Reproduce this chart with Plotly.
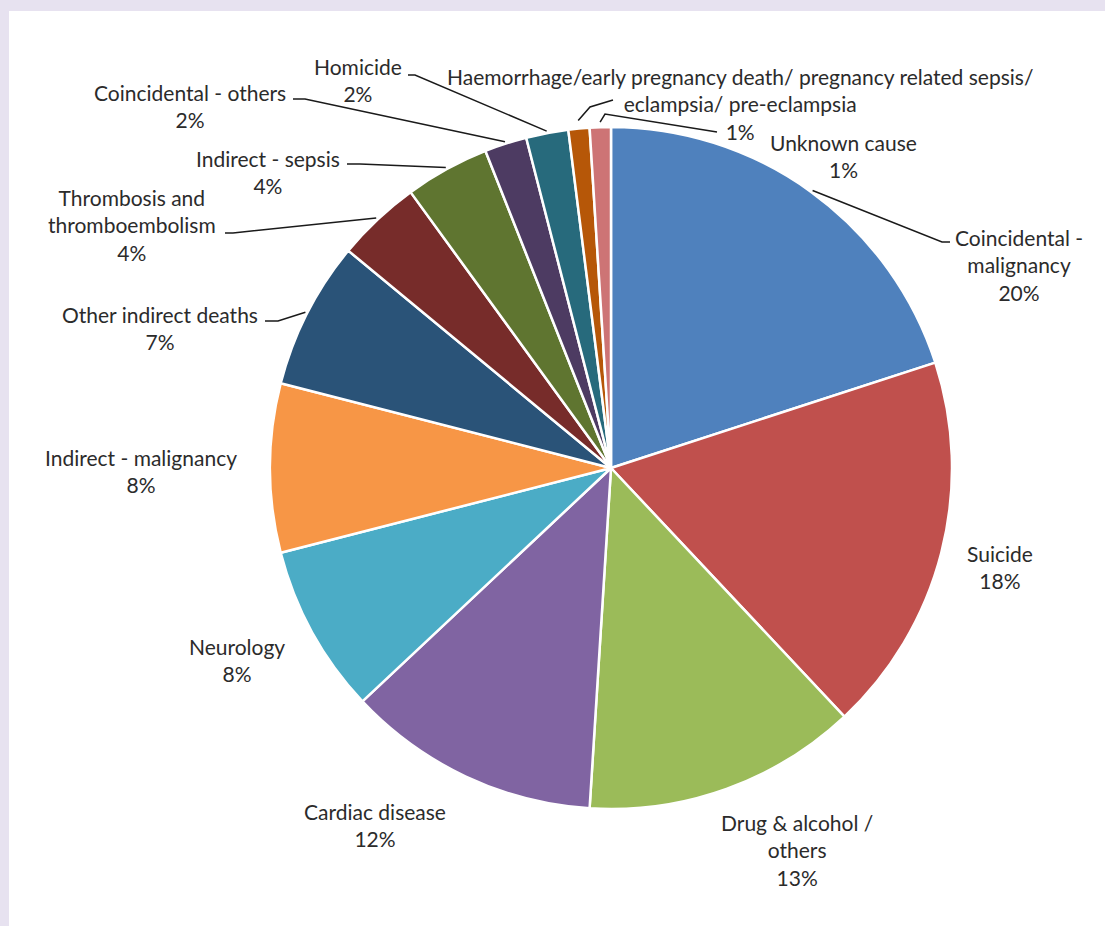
import math
import plotly.graph_objects as go

# Causes of death, in drawing order (clockwise from 12 o'clock)
categories = [
    "Coincidental - malignancy",
    "Suicide",
    "Drug & alcohol / others",
    "Cardiac disease",
    "Neurology",
    "Indirect - malignancy",
    "Other indirect deaths",
    "Thrombosis and thromboembolism",
    "Indirect - sepsis",
    "Coincidental - others",
    "Homicide",
    "Haemorrhage/early pregnancy death/ pregnancy related sepsis/ eclampsia/ pre-eclampsia",
    "Unknown cause",
]
values = [20, 18, 13, 12, 8, 8, 7, 4, 4, 2, 2, 1, 1]

# Wrapped label text as shown on the chart
display_labels = [
    "Coincidental -<br>malignancy",
    "Suicide",
    "Drug & alcohol /<br>others",
    "Cardiac disease",
    "Neurology",
    "Indirect - malignancy",
    "Other indirect deaths",
    "Thrombosis and<br>thromboembolism",
    "Indirect - sepsis",
    "Coincidental - others",
    "Homicide",
    "Haemorrhage/early pregnancy death/ pregnancy related sepsis/<br>eclampsia/ pre-eclampsia",
    "Unknown cause",
]

colors = [
    "#4F81BD", "#C0504D", "#9BBB59", "#8064A2", "#4BACC6", "#F79646",
    "#2A5378", "#772C2A", "#5F7530", "#4D3B62", "#276A7C", "#B65708",
    "#CD7475",
]

# Page geometry (pixels)
W, H = 1105, 926
CX, CY, R = 611, 468, 341

# Label block centres (pixels)
label_pos = [
    (1019, 265), (1000, 567), (797, 850), (375, 825), (237, 660),
    (141, 471), (160, 328), (132, 225), (268, 172), (190, 106),
    (358, 80), (740, 104), (843, 156),
]

# Leader line bend points (pixels), from the pie edge towards the label
leader_bends = {
    0: [(942, 242), (950, 242)],
    6: [(278, 321), (265, 321)],
    7: [(233, 233), (225, 233)],
    8: [(360, 164), (347, 164)],
    9: [(305, 99), (293, 99)],
    10: [(415, 75), (408, 75)],
    11: [(590, 107), (613, 100)],
    12: [(605, 114), (717, 132)],
}
leader_gap = {11: 8, 12: 5}

total = sum(values)

fig = go.Figure()
fig.add_trace(go.Pie(
    labels=categories,
    values=values,
    sort=False,
    direction="clockwise",
    rotation=0,
    textinfo="none",
    textposition="none",
    marker=dict(colors=colors, line=dict(color="white", width=2.5)),
    domain=dict(x=[(CX - R) / W, (CX + R) / W],
                y=[1 - (CY + R) / H, 1 - (CY - R) / H]),
    showlegend=False,
    hoverinfo="label+percent",
))

# Helper axes in pixel units for the labels and leader lines
fig.update_xaxes(range=[0, W], visible=False, fixedrange=True)
fig.update_yaxes(range=[H, 0], visible=False, fixedrange=True)

shapes = [
    dict(type="rect", xref="paper", yref="paper", x0=0, x1=1, y0=0, y1=1,
         fillcolor="#E7E2F0", line=dict(width=0), layer="below"),
    dict(type="rect", xref="x", yref="y", x0=9, x1=W + 5, y0=11, y1=H + 5,
         fillcolor="white", line=dict(width=0), layer="below"),
]

annotations = []
cum = 0
for i, v in enumerate(values):
    mid = (cum + v / 2) / total * 2 * math.pi
    cum += v
    pct = round(v / total * 100)
    lx, ly = label_pos[i]
    annotations.append(dict(
        x=lx, y=ly, xref="x", yref="y",
        text=f"{display_labels[i]}<br>{pct}%",
        showarrow=False, xanchor="center", yanchor="middle", align="center",
        font=dict(family="Lato", size=21, color="#2B2B2B"),
    ))
    if i in leader_bends:
        r0 = R + leader_gap.get(i, 2)
        sx = CX + r0 * math.sin(mid)
        sy = CY - r0 * math.cos(mid)
        pts = [(sx, sy)] + leader_bends[i]
        path = "M " + " L ".join(f"{px:.1f},{py:.1f}" for px, py in pts)
        shapes.append(dict(type="path", xref="x", yref="y", path=path,
                           line=dict(color="#1a1a1a", width=1.5)))

fig.update_layout(
    width=W, height=H,
    margin=dict(l=0, r=0, t=0, b=0),
    paper_bgcolor="#E7E2F0",
    plot_bgcolor="rgba(0,0,0,0)",
    shapes=shapes,
    annotations=annotations,
)

fig.write_html("out.html")
